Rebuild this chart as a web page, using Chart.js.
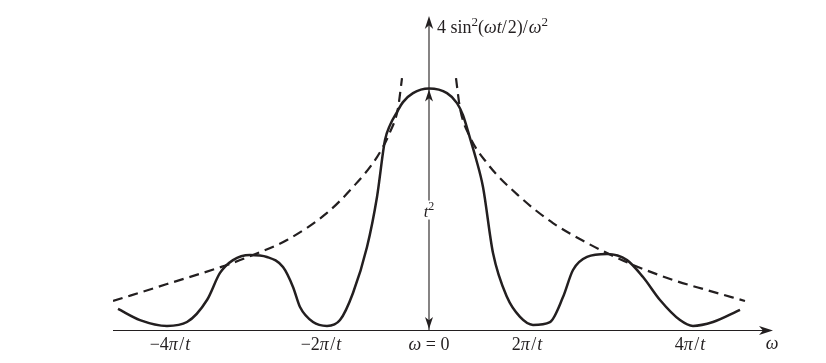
<!DOCTYPE html>
<html>
<head>
<meta charset="utf-8">
<script src="https://cdn.jsdelivr.net/npm/chart.js@4"></script>
<style>
  body { margin: 0; background: #fff; }
  #wrap { width: 826px; height: 363px; }
</style>
</head>
<body>
<div id="wrap"><canvas id="myChart" width="826" height="363"></canvas></div>
<script>
// omega in picture units (origin at omega = 0), value scaled so that the peak t^2 = 1
const solidX = [-6.22, -5.78, -5.24, -4.84, -4.44, -4.18, -3.92, -3.58, -3.24, -2.92, -2.72, -2.58, -2.32, -2.04, -1.78, -1.52, -1.24, -1.04, -0.88, -0.78, -0.64, -0.52, -0.32, 0, 0.36, 0.56, 0.68, 0.82, 0.94, 1.08, 1.28, 1.56, 1.82, 2.08, 2.42, 2.68, 2.88, 3.16, 3.56, 3.96, 4.28, 4.62, 5.02, 5.28, 5.68, 6.22];
const solidY = [0.089, 0.043, 0.019, 0.035, 0.126, 0.238, 0.291, 0.312, 0.304, 0.262, 0.180, 0.097, 0.035, 0.019, 0.043, 0.155, 0.345, 0.552, 0.787, 0.849, 0.903, 0.944, 0.981, 1.0, 0.981, 0.940, 0.890, 0.795, 0.710, 0.593, 0.320, 0.138, 0.056, 0.023, 0.035, 0.138, 0.250, 0.304, 0.316, 0.291, 0.221, 0.126, 0.043, 0.019, 0.035, 0.085];

const envLeftX = [-6.32, -5.24, -4.04, -3.52, -2.84, -2.04, -1.52, -1.04, -0.78, -0.62, -0.54];
const envLeftY = [0.122, 0.192, 0.271, 0.312, 0.374, 0.486, 0.593, 0.717, 0.820, 0.919, 1.043];
const envRightX = [0.54, 0.62, 0.80, 1.16, 1.82, 2.48, 3.16, 3.56, 4.08, 4.88, 5.56, 6.32];
const envRightY = [1.043, 0.919, 0.808, 0.692, 0.552, 0.444, 0.362, 0.320, 0.271, 0.209, 0.167, 0.122];

const tickValues = [-5.18, -2.16, 0, 1.96, 5.22];
const tickLabels = ['−4π/t', '−2π/t', 'ω = 0', '2π/t', '4π/t'];
const xAxisLabel = 'ω';
const yAxisLabel = '4 sin²(ωt/2)/ω²';
const peakLabel = 't²';
const peakValue = 1.0;

const ink = '#231f20';

function toPoints(xs, ys) {
  return xs.map((x, i) => ({ x: x, y: ys[i] }));
}

// draw text, italic for the math letters and small raised 2 for "²"
function richText(c, text, x, y, size, align) {
  const parts = [];
  for (const ch of text) {
    if (ch === '²') parts.push({ t: '2', font: `${Math.round(size * 0.7)}px "Liberation Serif"`, dy: -size * 0.38, gap: 0 });
    else if ('πtω'.includes(ch)) parts.push({ t: ch, font: `italic ${size}px "Liberation Serif"`, dy: 0, gap: ch === 'π' ? 1.5 : 0 });
    else parts.push({ t: ch, font: `${size}px "Liberation Serif"`, dy: 0, gap: ch === '/' ? 1 : 0 });
  }
  let w = 0;
  parts.forEach(p => { c.font = p.font; p.w = c.measureText(p.t).width + p.gap; w += p.w; });
  let cx = align === 'center' ? x - w / 2 : x;
  c.textBaseline = 'alphabetic';
  c.textAlign = 'left';
  parts.forEach(p => { c.font = p.font; c.fillText(p.t, cx, y + p.dy); cx += p.w; });
  return w;
}

function arrowHead(c, tx, ty, dx, dy, len, half) {
  const px = -dy, py = dx;
  c.beginPath();
  c.moveTo(tx, ty);
  c.lineTo(tx - dx * len + px * half, ty - dy * len + py * half);
  c.lineTo(tx - dx * len * 0.72, ty - dy * len * 0.72);
  c.lineTo(tx - dx * len - px * half, ty - dy * len - py * half);
  c.closePath();
  c.fill();
}

const axesPlugin = {
  id: 'axesPlugin',
  beforeDatasetsDraw(chart) {
    const c = chart.ctx, a = chart.chartArea;
    const xs = chart.scales.x, ys = chart.scales.y;
    const x0 = xs.getPixelForValue(0), y0 = ys.getPixelForValue(0);
    c.save();
    c.strokeStyle = ink;
    c.fillStyle = ink;
    c.lineWidth = 1.1;
    c.beginPath();
    c.moveTo(a.left, y0);
    c.lineTo(a.right - 4, y0);
    c.moveTo(x0, y0);
    c.lineTo(x0, a.top + 4);
    c.stroke();
    arrowHead(c, a.right, y0, 1, 0, 14, 4.5);
    arrowHead(c, x0, a.top, 0, -1, 13, 4.2);
    const yp = ys.getPixelForValue(peakValue);
    arrowHead(c, x0, yp + 1, 0, -1, 12, 4);
    arrowHead(c, x0, y0 - 1.5, 0, 1, 12, 4);
    c.restore();
  },
  afterDraw(chart) {
    const c = chart.ctx, a = chart.chartArea;
    const xs = chart.scales.x, ys = chart.scales.y;
    const x0 = xs.getPixelForValue(0);
    c.save();
    c.fillStyle = ink;
    tickValues.forEach((v, i) => {
      richText(c, tickLabels[i], xs.getPixelForValue(v), 350, 18, 'center');
    });
    richText(c, xAxisLabel, a.right - 1, 349, 18, 'center');
    richText(c, yAxisLabel, x0 + 8, 33, 18, 'left');
    const ym = ys.getPixelForValue(peakValue / 2);
    c.fillStyle = '#fff';
    c.fillRect(x0 - 8, ym - 9, 16, 19);
    c.fillStyle = ink;
    richText(c, peakLabel, x0, ym + 7, 17, 'center');
    c.restore();
  }
};

const ctx = document.getElementById('myChart');

const myChart = new Chart(ctx, {
  type: 'line',
  data: {
    datasets: [{
      data: toPoints(solidX, solidY),
      borderColor: ink,
      borderWidth: 2.5,
      cubicInterpolationMode: 'monotone',
      pointRadius: 0,
      fill: false
    }, {
      data: toPoints(envLeftX, envLeftY),
      borderColor: ink,
      borderWidth: 2.2,
      borderDash: [10, 6],
      cubicInterpolationMode: 'monotone',
      pointRadius: 0,
      fill: false
    }, {
      data: toPoints(envRightX, envRightY),
      borderColor: ink,
      borderWidth: 2.2,
      borderDash: [10, 6],
      cubicInterpolationMode: 'monotone',
      pointRadius: 0,
      fill: false
    }]
  },
  options: {
    responsive: false,
    animation: false,
    layout: {
      padding: { left: 113, right: 53, top: 16, bottom: 32.5 }
    },
    scales: {
      x: { type: 'linear', min: -6.32, max: 6.88, display: false },
      y: { min: 0, max: 1.3, display: false }
    },
    plugins: {
      legend: { display: false },
      tooltip: { enabled: false }
    }
  },
  plugins: [axesPlugin]
});
</script>
</body>
</html>
